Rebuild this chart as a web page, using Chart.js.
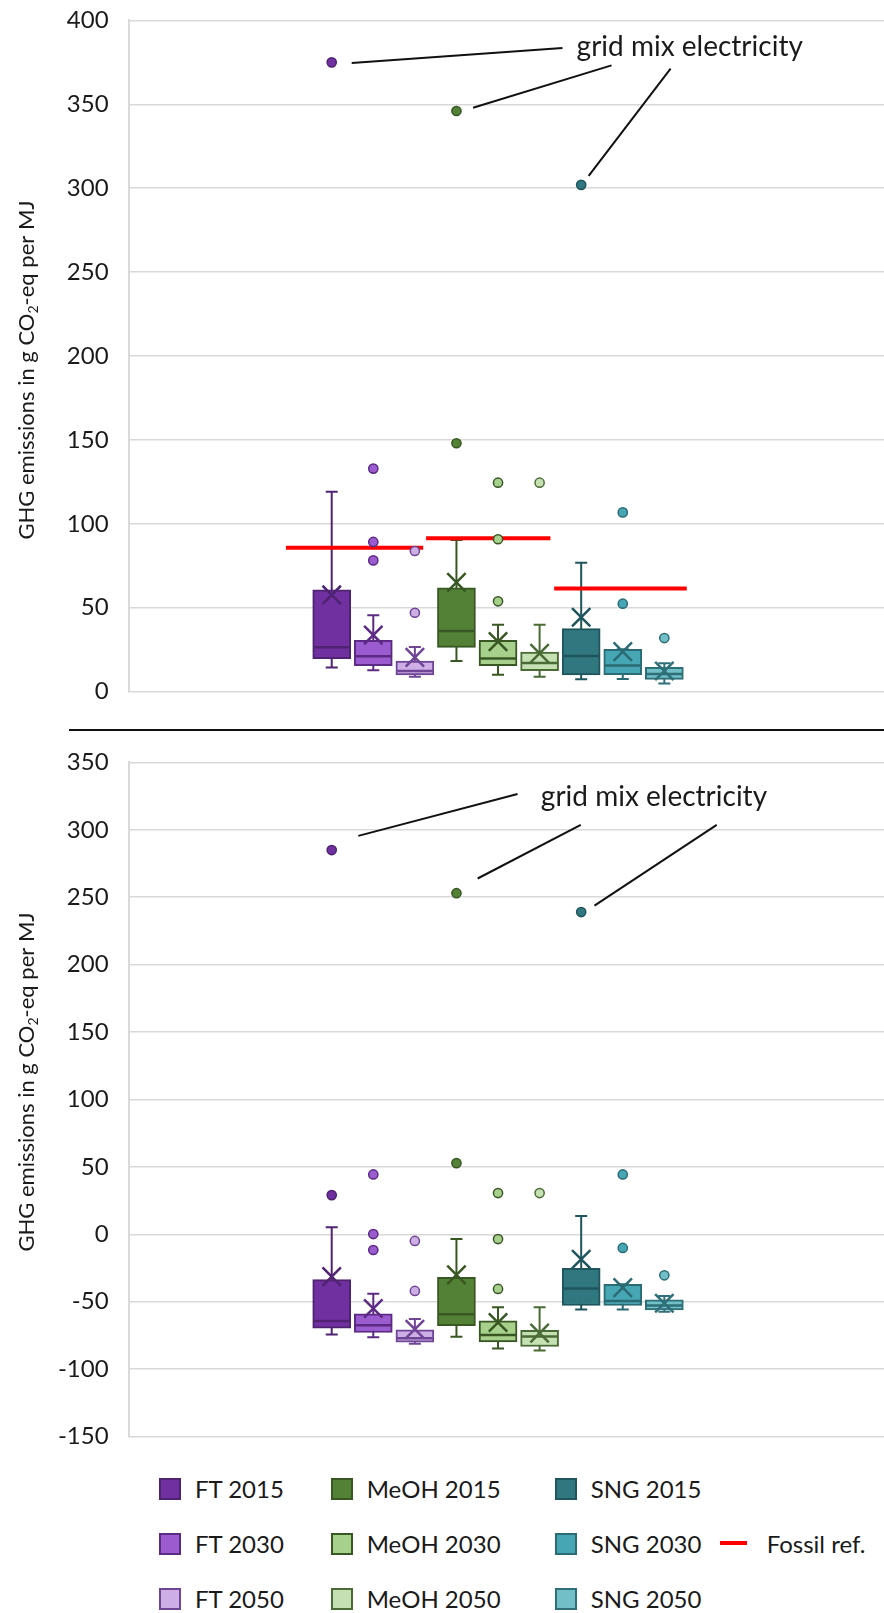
<!DOCTYPE html>
<html lang="en">
<head>
  <meta charset="UTF-8">
  <title>GHG emissions box plots</title>
  <script src="https://cdn.jsdelivr.net/npm/chart.js"></script>
  <style>
    body { margin: 0; background: #fff; font-family: Lato, sans-serif; }
    #page { position: relative; width: 884px; height: 1613px; overflow: hidden; }
    canvas { position: absolute; left: 0; }
    #topChart { top: -14px; }
    #bottomChart { top: 728px; }
    #divider { position: absolute; left: 69px; top: 729px; width: 815px; height: 2px; background: #111; }
    .label { position: absolute; font-size: 24px; line-height: 24px; color: #1a1a1a; white-space: nowrap; }
    .swatch { position: absolute; width: 18px; height: 18px; border: 2px solid; }
    .refline { position: absolute; width: 27px; height: 4px; background: #ff0000; }
  </style>
</head>
<body>
<div id="page">
  <div id="divider"></div>
  <canvas id="topChart" width="884" height="740"></canvas>
  <canvas id="bottomChart" width="884" height="743"></canvas>
  <div id="legend"></div>
</div>

<script>
  // ---- data ----
  var seriesNames = ['FT 2015', 'FT 2030', 'FT 2050', 'MeOH 2015', 'MeOH 2030', 'MeOH 2050', 'SNG 2015', 'SNG 2030', 'SNG 2050'];

  // upper panel
  var topLow  = [14.3, 12.7,  8.9, 18.2, 10.1,  8.9,  7.3,  7.5,  4.9];
  var topQ1   = [19.6, 15.5,  9.9, 26.4, 15.5, 12.5,  9.9, 10.1,  7.3];
  var topMed  = [26.4, 21.0, 12.3, 36.1, 19.8, 17.0, 21.2, 15.5, 10.5];
  var topQ3   = [60.7, 30.6, 18.2, 61.9, 30.6, 23.6, 37.5, 25.2, 14.5];
  var topHigh = [119.1, 45.5, 26.6, 90.3, 39.9, 39.9, 76.8, 25.2, 16.9];
  var topMean = [57.6, 33.7, 20.4, 65.1, 29.8, 22.8, 44.3, 23.8, 12.3];
  var topOutliers = [[375], [132.9, 89.2, 78.2], [83.8, 47.0], [346, 148], [124.5, 90.8, 53.8], [124.5], [302], [106.8, 52.4], [31.9]];
  var fossilRef = [85.8, 91.4, 61.4];

  // lower panel
  var botLow  = [-74.3, -76.3, -81.2, -76.0, -84.7, -86.2, -55.8, -55.8, -57.5];
  var botQ1   = [-69.6, -72.8, -80.0, -67.7, -79.8, -83.2, -52.8, -52.8, -56.0];
  var botMed  = [-64.2, -67.4, -77.0, -59.3, -74.6, -75.8, -40.2, -49.4, -52.8];
  var botQ3   = [-33.6, -59.0, -70.9, -31.9, -64.2, -71.1, -25.2, -37.0, -48.6];
  var botHigh = [5.2, -44.0, -62.7, -3.5, -54.1, -54.1, 13.6, -37.0, -45.7];
  var botMean = [-31.4, -55.0, -70.4, -30.1, -65.4, -73.3, -18.5, -39.5, -51.1];
  var botOutliers = [[29.1, 285], [44.4, 0.2, -11.6], [-4.9, -42.0], [52.8, 253], [30.6, -3.5, -40.5], [30.6], [239], [44.4, -10.1], [-30.4]];

  var noteText = 'grid mix electricity';

  // ---- styles / layout ----
  var fills = ['#7030a0', '#9b5ccf', '#cdaee5', '#538135', '#a8d08d', '#c5e0b3', '#31777f', '#46a6b3', '#72bfc7'];
  var edges = ['#4f2372', '#5c2a85', '#6f4596', '#385723', '#385723', '#4a6b35', '#1f555c', '#2a6b74', '#2e6f78'];
  var X_MIN = -3.885, X_MAX = 14.283;
  var AXIS_W = 128.6;
  var FONT = 'Lato';
  var fossilSpan = [[-0.1, 3.2], [3.27, 6.26], [6.35, 9.54]];

  var topNote = { at: [6.89, 378.8], leaders: [[1.48, 374.6, 6.55, 383.5], [4.40, 347.9, 7.73, 373.2], [7.18, 307.4, 9.15, 371.2]] };
  var botNote = { at: [6.03, 317.4], leaders: [[1.64, 295.5, 5.47, 326.5], [4.51, 263.9, 6.99, 303.7], [7.32, 243.8, 10.26, 303.7]] };

  var notesPlugin = {
    id: 'notes',
    afterDatasetsDraw: function(chart, args, opts) {
      var ctx = chart.ctx;
      var x = chart.scales.x, y = chart.scales.y;
      ctx.save();
      ctx.fillStyle = '#1a1a1a';
      ctx.textBaseline = 'alphabetic';
      ctx.font = '28px ' + FONT;
      ctx.fillText(noteText, x.getPixelForValue(opts.at[0]), y.getPixelForValue(opts.at[1]));

      // rotated axis title with a subscript
      var a = 'GHG emissions in g CO', b = '2', c = '-eq per MJ';
      ctx.translate(0, opts.titleY);
      ctx.rotate(-Math.PI / 2);
      ctx.font = '22px ' + FONT;
      var wa = ctx.measureText(a).width, wc = ctx.measureText(c).width;
      ctx.font = '14px ' + FONT;
      var wb = ctx.measureText(b).width;
      var start = -(wa + wb + wc) / 2;
      ctx.font = '22px ' + FONT;
      ctx.fillText(a, start, 34);
      ctx.fillText(c, start + wa + wb, 34);
      ctx.font = '14px ' + FONT;
      ctx.fillText(b, start + wa, 38);
      ctx.restore();
    }
  };

  function buildPanel(id, low, q1, med, q3, high, mean, outliers, yMin, yMax, note, titleY, refs) {
    var datasets = [];

    // whisker stems
    for (var i = 0; i < seriesNames.length; i++) {
      datasets.push({
        type: 'line', showLine: true, order: 20,
        data: [{ x: i + 1, y: low[i] }, { x: i + 1, y: high[i] }],
        borderColor: edges[i], borderWidth: 2, pointRadius: 0
      });
    }

    // boxes
    datasets.push({
      type: 'bar', order: 10,
      data: seriesNames.map(function(n, i) { return { x: i + 1, y: [q1[i], q3[i]] }; }),
      backgroundColor: fills, borderColor: edges, borderWidth: 2, borderSkipped: false,
      barThickness: 38
    });

    // whisker caps
    var caps = [], capColors = [];
    for (var j = 0; j < seriesNames.length; j++) {
      caps.push({ x: j + 1, y: low[j] }, { x: j + 1, y: high[j] });
      capColors.push(edges[j], edges[j]);
    }
    datasets.push({
      type: 'scatter', order: 6, data: caps,
      pointStyle: 'line', pointRadius: 6, pointBorderWidth: 2, pointBorderColor: capColors
    });

    // medians
    datasets.push({
      type: 'scatter', order: 5,
      data: seriesNames.map(function(n, i) { return { x: i + 1, y: med[i] }; }),
      pointStyle: 'line', pointRadius: 18, pointBorderWidth: 2.5, pointBorderColor: edges
    });

    // means
    datasets.push({
      type: 'scatter', order: 4,
      data: seriesNames.map(function(n, i) { return { x: i + 1, y: mean[i] }; }),
      pointStyle: 'crossRot', pointRadius: 13, pointBorderWidth: 2.5, pointBorderColor: edges
    });

    // fossil reference
    if (refs) {
      refs.forEach(function(v, k) {
        datasets.push({
          type: 'line', showLine: true, order: 3,
          data: [{ x: fossilSpan[k][0], y: v }, { x: fossilSpan[k][1], y: v }],
          borderColor: '#ff0000', borderWidth: 4, pointRadius: 0
        });
      });
    }

    // outliers
    var pts = [], ptFill = [], ptEdge = [];
    outliers.forEach(function(list, i) {
      list.forEach(function(v) {
        pts.push({ x: i + 1, y: v });
        ptFill.push(fills[i]);
        ptEdge.push(edges[i]);
      });
    });
    datasets.push({
      type: 'scatter', order: 2, data: pts,
      pointStyle: 'circle', pointRadius: 4.6, pointBorderWidth: 1.5,
      pointBackgroundColor: ptFill, pointBorderColor: ptEdge
    });

    // leader lines
    note.leaders.forEach(function(l) {
      datasets.push({
        type: 'line', showLine: true, order: 1,
        data: [{ x: l[0], y: l[1] }, { x: l[2], y: l[3] }],
        borderColor: '#111', borderWidth: 2, pointRadius: 0
      });
    });

    new Chart(document.getElementById(id), {
      type: 'scatter',
      data: { datasets: datasets },
      plugins: [notesPlugin],
      options: {
        responsive: false,
        animation: false,
        events: [],
        layout: { padding: 0, autoPadding: false },
        plugins: {
          legend: { display: false },
          tooltip: { enabled: false },
          notes: { at: note.at, titleY: titleY }
        },
        scales: {
          x: {
            type: 'linear', display: false, bounds: 'data',
            offset: false, grid: { offset: false },
            min: X_MIN, max: X_MAX
          },
          y: {
            min: yMin, max: yMax,
            ticks: { stepSize: 50, padding: 20, color: '#1a1a1a', font: { family: FONT, size: 24 } },
            grid: { color: '#d9d9d9', lineWidth: 1.5, drawTicks: false },
            border: { display: true, color: '#d9d9d9', width: 2 },
            afterFit: function(scale) { scale.width = AXIS_W; }
          }
        }
      }
    });
  }

  buildPanel('topChart', topLow, topQ1, topMed, topQ3, topHigh, topMean, topOutliers, 0, 400, topNote, 384, fossilRef);
  buildPanel('bottomChart', botLow, botQ1, botMed, botQ3, botHigh, botMean, botOutliers, -150, 350, botNote, 354, null);

  // legend, three columns filled top to bottom
  var legend = document.getElementById('legend');
  var swatchX = [159.3, 331, 555], textX = [195, 366.7, 590.7], rowY = [1489, 1544, 1599];
  seriesNames.forEach(function(name, i) {
    var col = Math.floor(i / 3), row = i % 3;
    var sw = document.createElement('div');
    sw.className = 'swatch';
    sw.style.left = swatchX[col] + 'px';
    sw.style.top = (rowY[row] - 11) + 'px';
    sw.style.background = fills[i];
    sw.style.borderColor = edges[i];
    legend.appendChild(sw);
    var tx = document.createElement('div');
    tx.className = 'label';
    tx.style.left = textX[col] + 'px';
    tx.style.top = (rowY[row] - 12) + 'px';
    tx.textContent = name;
    legend.appendChild(tx);
  });
  var rl = document.createElement('div');
  rl.className = 'refline';
  rl.style.left = '720px';
  rl.style.top = '1541px';
  legend.appendChild(rl);
  var rt = document.createElement('div');
  rt.className = 'label';
  rt.style.left = '766.7px';
  rt.style.top = '1532px';
  rt.textContent = 'Fossil ref.';
  legend.appendChild(rt);
</script>
</body>
</html>
